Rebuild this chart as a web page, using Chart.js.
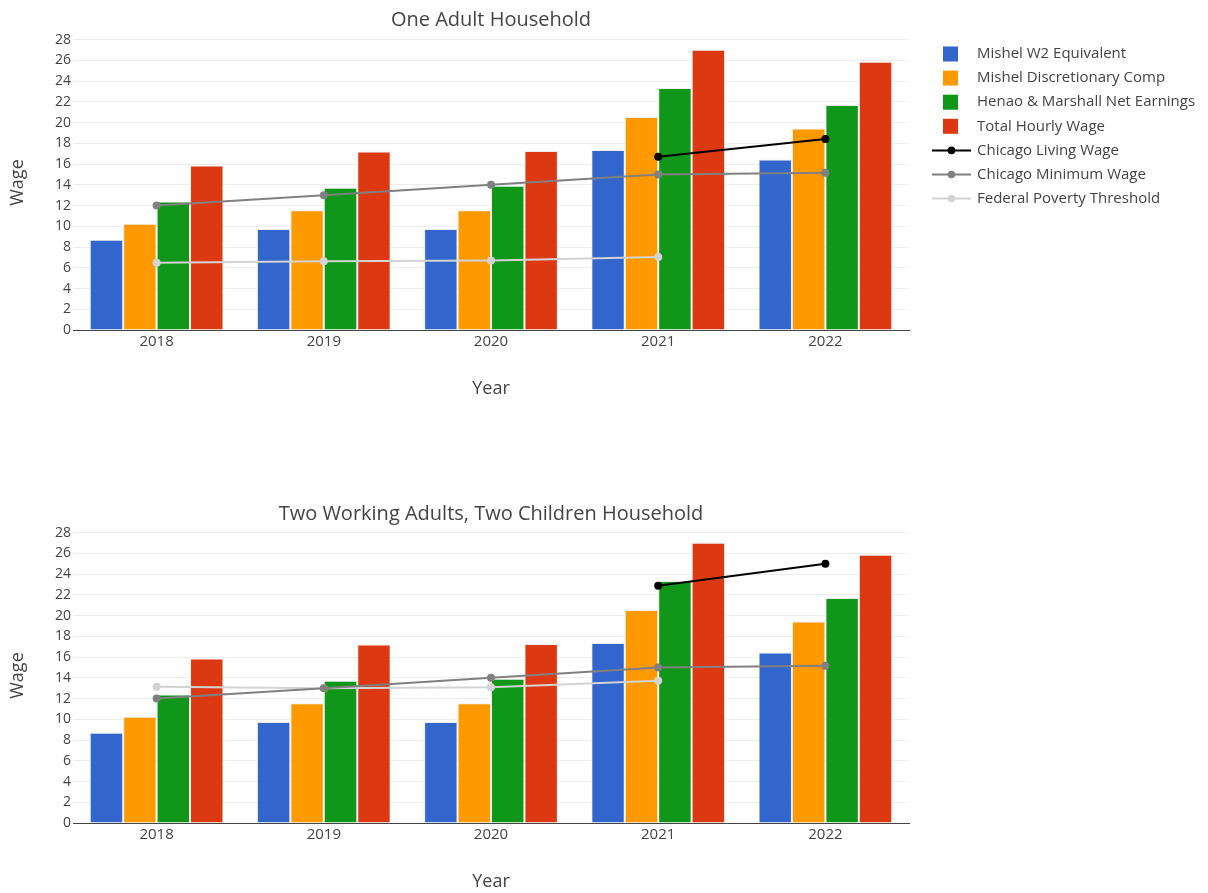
<!DOCTYPE html>
<html>
<head>
<meta charset="utf-8">
<script src="https://cdn.jsdelivr.net/npm/chart.js@4.4.0/dist/chart.umd.min.js"></script>
<style>
  html, body { margin: 0; padding: 0; background: #fff; width: 1208px; height: 893px; overflow: hidden; }
  canvas { position: absolute; left: 0; }
  #top { top: 0; }
  #bottom { top: 400px; }
</style>
</head>
<body>
<canvas id="top" width="1208" height="400"></canvas>
<canvas id="bottom" width="1208" height="493"></canvas>
<script>
// Categories and tick labels
const years = ['2018', '2019', '2020', '2021', '2022'];
const wageTicks = [0, 2, 4, 6, 8, 10, 12, 14, 16, 18, 20, 22, 24, 26, 28];

// Hourly wage estimates (same for both household types)
const mishelW2 = [8.71, 9.74, 9.74, 17.36, 16.45];
const mishelDiscretionary = [10.25, 11.54, 11.54, 20.54, 19.44];
const henaoMarshall = [12.4, 13.72, 13.92, 23.34, 21.7];
const totalHourly = [15.87, 17.22, 17.26, 27.03, 25.87];

// Reference wage lines
const minimumWage = [12, 13, 14, 15, 15.17];
const livingWageSingle = [null, null, null, 16.71, 18.42];
const povertySingle = [6.49, 6.62, 6.71, 7.04, null];
const livingWageFamily = [null, null, null, 22.87, 25.0];
const povertyFamily = [13.15, 12.99, 13.09, 13.73, null];

const FONT = "'Open Sans', 'Noto Sans', sans-serif";
const TEXT = '#444';
Chart.defaults.font.family = FONT;
Chart.defaults.color = TEXT;

function barSet(label, data, color) {
  return {
    type: 'bar', label, data, order: 1,
    backgroundColor: color, borderColor: 'rgba(236,236,236,0.95)', borderWidth: 1,
    categoryPercentage: 0.8, barPercentage: 1.0
  };
}
function lineSet(label, data, color) {
  return {
    type: 'line', label, data, order: 0,
    borderColor: color, backgroundColor: color, borderWidth: 2,
    pointRadius: 4, pointHoverRadius: 4, pointBorderWidth: 0,
    tension: 0, spanGaps: false
  };
}

// Subplot title, centred over the plotting area
const subplotTitle = {
  id: 'subplotTitle',
  afterDraw(chart, args, opts) {
    const { ctx, chartArea } = chart;
    ctx.save();
    ctx.font = '20px ' + FONT;
    ctx.fillStyle = TEXT;
    ctx.textAlign = 'center';
    ctx.textBaseline = 'alphabetic';
    ctx.fillText(opts.text, (chartArea.left + chartArea.right) / 2, opts.baseline);
    ctx.restore();
  }
};

// Legend listing every series, placed to the right of the plot
const sideLegend = {
  id: 'sideLegend',
  afterDraw(chart, args, opts) {
    if (!opts.show) return;
    const { ctx } = chart;
    ctx.save();
    ctx.font = '15px ' + FONT;
    ctx.textBaseline = 'middle';
    chart.data.datasets.forEach((ds, i) => {
      const y = opts.y0 + i * opts.step;
      if (ds.type === 'bar') {
        ctx.fillStyle = ds.backgroundColor;
        ctx.fillRect(943, y - 7.5, 15, 15);
      } else {
        ctx.strokeStyle = ds.borderColor;
        ctx.lineWidth = 2;
        ctx.beginPath();
        ctx.moveTo(932, y);
        ctx.lineTo(971, y);
        ctx.stroke();
        ctx.fillStyle = ds.borderColor;
        ctx.beginPath();
        ctx.arc(951.5, y, 3.8, 0, Math.PI * 2);
        ctx.fill();
      }
      ctx.fillStyle = TEXT;
      ctx.textAlign = 'left';
      ctx.fillText(ds.label, 977, y);
    });
    ctx.restore();
  }
};

function makeChart(id, title, titleBaseline, padTop, living, poverty, showLegend) {
  return new Chart(document.getElementById(id), {
    data: {
      labels: years,
      datasets: [
        barSet('Mishel W2 Equivalent', mishelW2, '#3366CC'),
        barSet('Mishel Discretionary Comp', mishelDiscretionary, '#FF9900'),
        barSet('Henao & Marshall Net Earnings', henaoMarshall, '#109618'),
        barSet('Total Hourly Wage', totalHourly, '#DC3912'),
        lineSet('Chicago Living Wage', living, '#000000'),
        lineSet('Chicago Minimum Wage', minimumWage, '#808080'),
        lineSet('Federal Poverty Threshold', poverty, '#D3D3D3')
      ]
    },
    options: {
      responsive: false,
      animation: false,
      events: [],
      layout: { padding: { top: padTop, right: 299, bottom: 0, left: 0 } },
      plugins: {
        legend: { display: false },
        tooltip: { enabled: false },
        title: { display: false },
        subplotTitle: { text: title, baseline: titleBaseline },
        sideLegend: { show: showLegend, y0: 54, step: 24.1 }
      },
      scales: {
        x: {
          type: 'category',
          offset: true,
          grid: { display: false, drawTicks: false },
          border: { display: true, color: '#444', width: 1 },
          ticks: { font: { size: 15 }, color: TEXT, padding: 2.5, maxRotation: 0 },
          title: { display: true, text: 'Year', font: { size: 18 }, color: TEXT, padding: { top: 0, bottom: 0.5 } },
          afterFit(scale) { scale.height = 70; }
        },
        y: {
          min: 0,
          max: 28.45,
          grid: { color: '#eeeeee', lineWidth: 1, drawTicks: false },
          border: { display: false },
          ticks: { stepSize: 2, font: { size: 14 }, color: TEXT, padding: 2 },
          afterBuildTicks(scale) { scale.ticks = wageTicks.map(v => ({ value: v })); },
          title: { display: true, text: 'Wage', font: { size: 18 }, color: TEXT, padding: { top: 7.5, bottom: 0 } },
          afterFit(scale) { scale.width = 73; }
        }
      }
    },
    plugins: [subplotTitle, sideLegend]
  });
}

makeChart('top', 'One Adult Household', 26, 35, livingWageSingle, povertySingle, true);
makeChart('bottom', 'Two Working Adults, Two Children Household', 119.5, 128, livingWageFamily, povertyFamily, false);
</script>
</body>
</html>
